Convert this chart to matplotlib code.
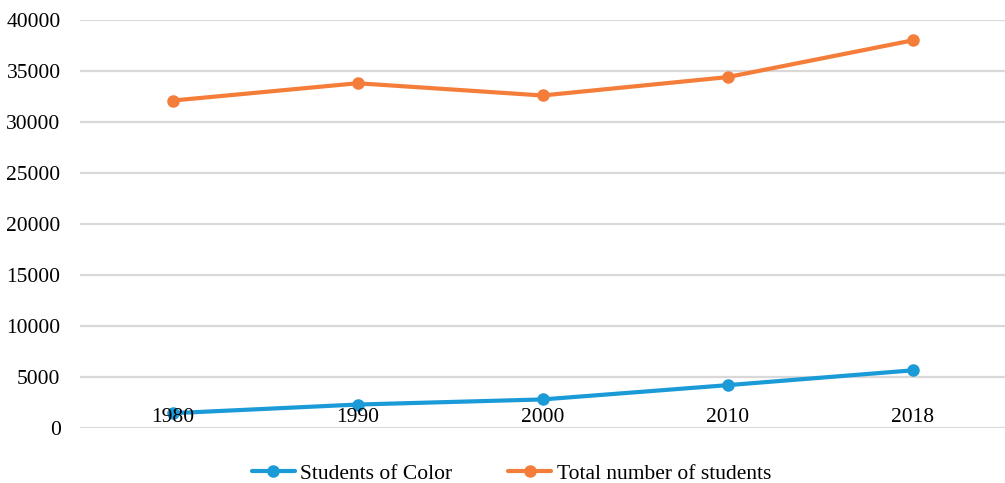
import matplotlib

matplotlib.use("Agg")
import matplotlib.pyplot as plt

years = ["1980", "1990", "2000", "2010", "2018"]
students_of_color = [1450, 2300, 2800, 4200, 5650]
total_students = [32100, 33800, 32600, 34400, 38000]
y_ticks = [0, 5000, 10000, 15000, 20000, 25000, 30000, 35000, 40000]

BLUE = "#1b9ad8"
ORANGE = "#f47d3a"
GRID = "#d9d9d9"

plt.rcParams["font.family"] = ["Liberation Serif", "DejaVu Serif"]

fig = plt.figure(figsize=(10.05, 4.83), dpi=100)
ax = fig.add_axes([80 / 1005, 1 - 428 / 483, 925 / 1005, 408 / 483])

x = list(range(len(years)))
ax.plot(x, students_of_color, color=BLUE, lw=3, marker="o", ms=8,
        label="Students of Color", solid_capstyle="round", zorder=2)
ax.plot(x, total_students, color=ORANGE, lw=3, marker="o", ms=8,
        label="Total number of students", solid_capstyle="round", zorder=2)

# horizontal gridlines below the series
for v in y_ticks:
    ax.axhline(v, color=GRID, lw=1.6, zorder=0.5)

ax.set_xlim(-0.5, len(years) - 0.5)
ax.set_ylim(0, 40000)
ax.set_yticks(y_ticks)
ax.set_yticklabels([str(v) for v in y_ticks])
ax.set_xticks(x)
ax.set_xticklabels(years)

for s in ax.spines.values():
    s.set_visible(False)

ax.tick_params(axis="y", length=0, pad=14, labelsize=15.5)
ax.tick_params(axis="x", length=0, pad=-14.5, labelsize=15.5)
ax.xaxis.set_zorder(3)  # year labels sit on top of the blue line

fig.legend(loc="center", bbox_to_anchor=(0.509, 0.019), ncol=2,
           frameon=False, fontsize=15.5, handlelength=2.0,
           handletextpad=0.25, columnspacing=2.6)

fig.savefig("out.png", dpi=100)
